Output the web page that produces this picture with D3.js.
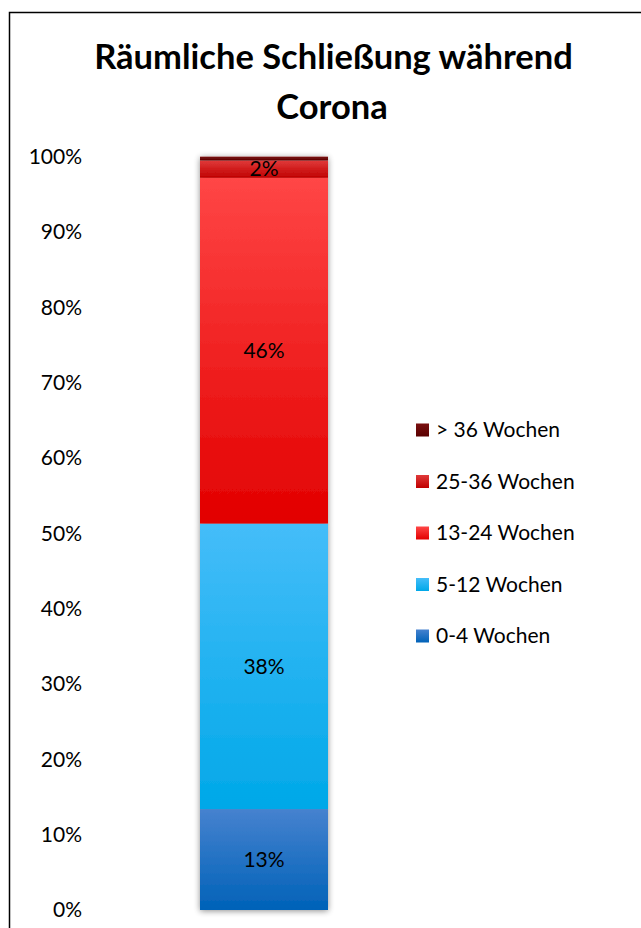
<!DOCTYPE html>
<html><head><meta charset="utf-8">
<script src="https://cdn.jsdelivr.net/npm/d3@7"></script>
<style>body{margin:0;background:#fff}svg{display:block}text{font-family:Lato,"Open Sans",sans-serif}</style>
</head><body>
<svg id="c" width="641" height="928"></svg>
<script>
const categories = ["0-4 Wochen","5-12 Wochen","13-24 Wochen","25-36 Wochen","> 36 Wochen"];
const values = [13.4, 37.9, 45.9, 2.3, 0.5];
const labels = ["13%","38%","46%","2%",""];
const tickValues = [0,10,20,30,40,50,60,70,80,90,100];
const colorsTop = ["#4682cf","#45bdf9","#ff4646","#e03a3a","#7a1010"];
const colorsBot = ["#0062b8","#00a8e8","#e20000","#c00000","#5a0000"];

const svg = d3.select("#c");
svg.append("rect").attr("x",9.5).attr("y",12.5).attr("width",700).attr("height",1000)
  .attr("fill","#fff").attr("stroke","#000").attr("stroke-width",1.5);

svg.append("text").attr("x",333.5).attr("y",69).attr("text-anchor","middle")
  .attr("font-size",34.5).attr("font-weight","bold").text("Räumliche Schließung während");
svg.append("text").attr("x",332).attr("y",119).attr("text-anchor","middle")
  .attr("font-size",34.5).attr("font-weight","bold").text("Corona");

const defs = svg.append("defs");
categories.forEach((c,i)=>{
  const g = defs.append("linearGradient").attr("id","g"+i).attr("x1",0).attr("y1",0).attr("x2",0).attr("y2",1);
  g.append("stop").attr("offset","0%").attr("stop-color",colorsTop[i]);
  g.append("stop").attr("offset","100%").attr("stop-color",colorsBot[i]);
});
const f = defs.append("filter").attr("id","sh").attr("x","-20%").attr("y","-5%").attr("width","140%").attr("height","110%");
f.append("feGaussianBlur").attr("in","SourceAlpha").attr("stdDeviation",3).attr("result","b");
f.append("feOffset").attr("in","b").attr("dx",0).attr("dy",1).attr("result","o");
f.append("feComponentTransfer").attr("in","o").attr("result","o2").append("feFuncA").attr("type","linear").attr("slope",0.45);
const m = f.append("feMerge"); m.append("feMergeNode").attr("in","o2"); m.append("feMergeNode").attr("in","SourceGraphic");

const y = d3.scaleLinear().domain([0,100]).range([910,156.7]);
const x = d3.scaleBand().domain(["Corona"]).range([200,328]).padding(0);

const axis = d3.axisLeft(y).tickValues(tickValues).tickFormat(d=>d+"%").tickSize(0).tickPadding(0);
const ga = svg.append("g").attr("transform","translate(82,0)").call(axis);
ga.select(".domain").remove();
ga.selectAll("text").attr("font-size",21).attr("fill","#000").attr("font-family","Lato,sans-serif");

let cum = 0;
const segs = values.map((v,i)=>{const s={i,v,y0:cum,y1:cum+v,label:labels[i]};cum+=v;return s;});
const gb = svg.append("g").attr("filter","url(#sh)");
gb.selectAll("rect").data(segs).join("rect")
  .attr("x",x("Corona")).attr("width",x.bandwidth())
  .attr("y",d=>y(d.y1)).attr("height",d=>y(d.y0)-y(d.y1))
  .attr("fill",d=>"url(#g"+d.i+")");
svg.selectAll(".lbl").data(segs.filter(d=>d.label)).join("text")
  .attr("x",x("Corona")+x.bandwidth()/2).attr("y",d=>y((d.y0+d.y1)/2)).attr("dy","0.35em")
  .attr("text-anchor","middle").attr("font-size",21).text(d=>d.label);

const legend = svg.append("g");
const order = categories.map((c,i)=>i).reverse();
const ly = d3.scalePoint().domain(order).range([430,636]);
order.forEach(i=>{
  const g = legend.append("g").attr("transform",`translate(416,${ly(i)})`);
  g.append("rect").attr("x",0).attr("y",-6.5).attr("width",13).attr("height",13).attr("fill","url(#g"+i+")");
  g.append("text").attr("x",20).attr("y",0).attr("dy","0.35em").attr("font-size",21).text(categories[i]);
});
</script>
</body></html>
